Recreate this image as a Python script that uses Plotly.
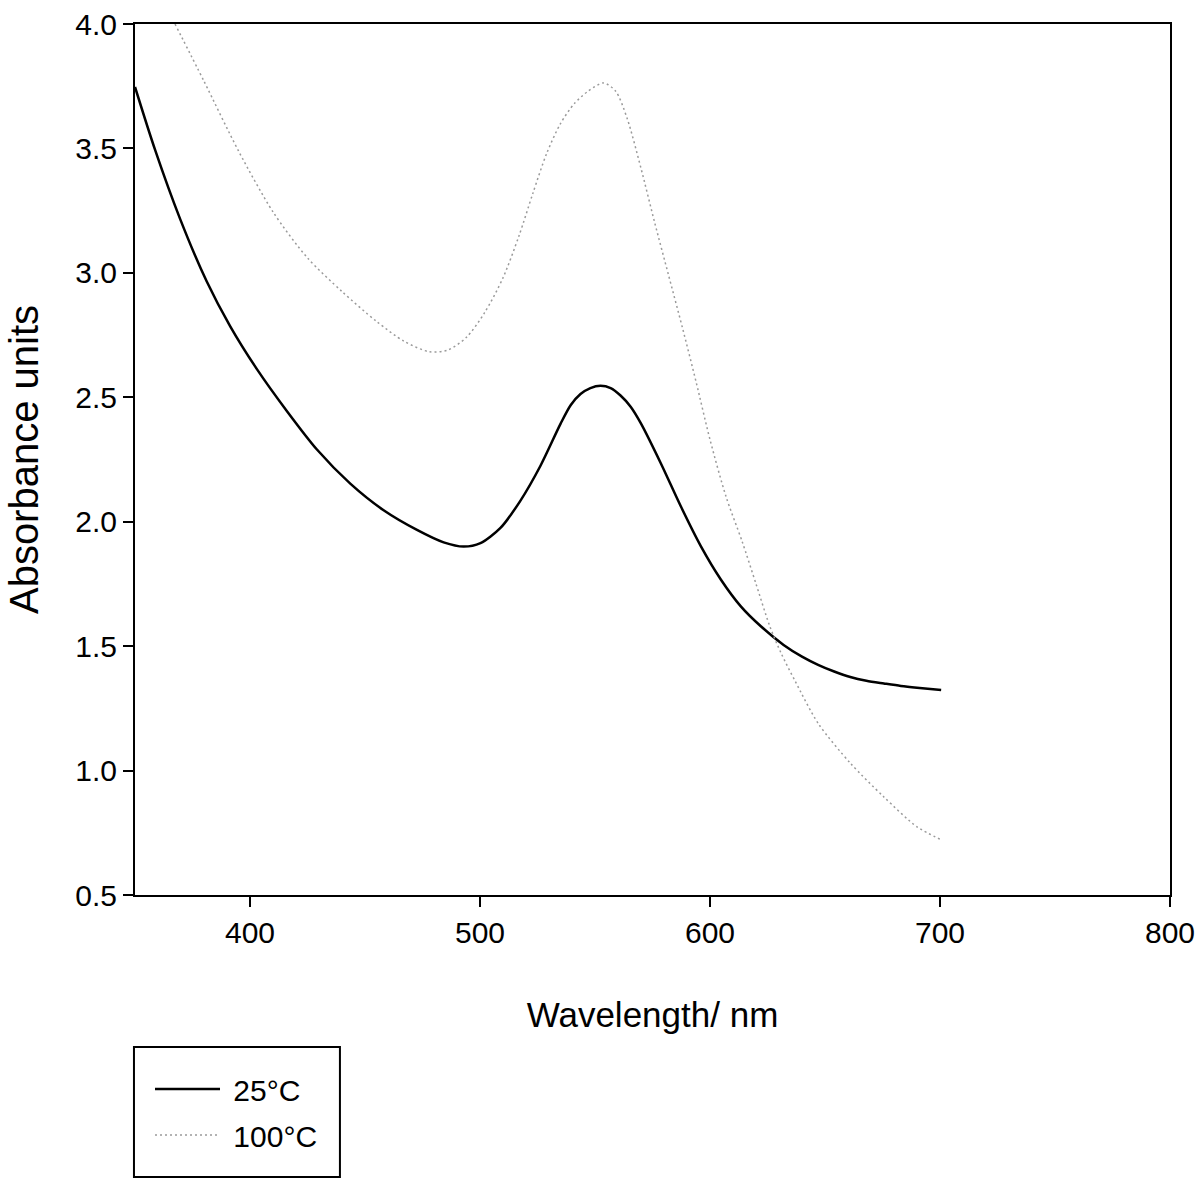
import plotly.graph_objects as go

# 25°C spectrum (wavelength nm, absorbance)
wl_25 = [350, 358.7, 369.6, 381.2, 391.4, 403, 416, 429.1, 443.6, 458.1, 472.6, 484.2,
         492.9, 500.2, 508.9, 517.6, 526.3, 535, 539.4, 543.7, 548, 552.4, 556.8, 561.1,
         565.5, 569.9, 578.6, 587.3, 596, 604.7, 613.4, 622.1, 632, 640, 647, 654, 661,
         668, 675.6, 683, 690, 700.5]
abs_25 = [3.747, 3.495, 3.217, 2.965, 2.785, 2.613, 2.445, 2.29, 2.153, 2.046, 1.967, 1.917,
          1.900, 1.914, 1.975, 2.085, 2.225, 2.393, 2.468, 2.513, 2.537, 2.546, 2.537, 2.507,
          2.462, 2.396, 2.235, 2.062, 1.902, 1.768, 1.660, 1.580, 1.505, 1.458, 1.425, 1.398,
          1.376, 1.361, 1.350, 1.340, 1.333, 1.324]

# 100°C spectrum
wl_100 = [367.4, 380, 395, 410, 425, 440, 455, 467, 478, 486, 494, 502, 510, 517, 523,
          529, 535, 541, 547, 553.7, 559, 564, 570, 576, 582, 588, 594, 600, 607, 614, 620,
          626, 631, 637, 647, 661, 675.6, 690, 700.5]
abs_100 = [4.0, 3.77, 3.49, 3.245, 3.06, 2.925, 2.805, 2.725, 2.683, 2.69, 2.74, 2.84, 2.98,
           3.15, 3.32, 3.48, 3.60, 3.68, 3.73, 3.763, 3.73, 3.62, 3.42, 3.20, 2.99, 2.78,
           2.56, 2.33, 2.10, 1.92, 1.75, 1.58, 1.47, 1.36, 1.19, 1.03, 0.894, 0.774, 0.722]

series_names = ["25°C", "100°C"]
x_ticks = [400, 500, 600, 700, 800]
y_ticks = [0.5, 1.0, 1.5, 2.0, 2.5, 3.0, 3.5, 4.0]

FONT = "Liberation Sans, Arial, sans-serif"

fig = go.Figure()
fig.add_trace(go.Scatter(
    x=wl_25, y=abs_25, mode="lines", name="\u00a0" + series_names[0],
    line=dict(color="black", width=2.5, shape="spline", smoothing=0.8),
    legend="legend", showlegend=True,
))
fig.add_trace(go.Scatter(
    x=wl_100, y=abs_100, mode="lines", name="\u00a0" + series_names[1],
    line=dict(color="#9a9a9a", width=1.5, dash="2px,3px", shape="spline", smoothing=0.8),
    legend="legend2", showlegend=True,
))

axis_common = dict(
    showline=True, linecolor="black", linewidth=2, mirror=True,
    ticks="outside", ticklen=10, tickwidth=2, tickcolor="black",
    showgrid=False, zeroline=False, ticklabeloverflow="allow",
    tickfont=dict(family=FONT, size=30, color="black"),
)

legend_common = dict(xanchor="left", yanchor="top", bgcolor="rgba(0,0,0,0)",
                     borderwidth=0, itemwidth=65, visible=True,
                     font=dict(family=FONT, size=30, color="black"))

fig.update_layout(
    width=1200, height=1188,
    margin=dict(l=135, r=30, t=24, b=293, autoexpand=False),
    paper_bgcolor="white", plot_bgcolor="white",
    showlegend=True,
    font=dict(family=FONT, color="black"),
    xaxis=dict(range=[350, 800], tickvals=x_ticks, **axis_common,
               title=dict(text="Wavelength/ nm", font=dict(family=FONT, size=35), standoff=54)),
    yaxis=dict(range=[0.5, 4.0], tickvals=y_ticks, tickformat=".1f", **axis_common,
               title=dict(text="Absorbance units", font=dict(family=FONT, size=40), standoff=24)),
    legend=dict(x=0.0145, y=-0.1929, **legend_common),
    legend2=dict(x=0.0145, y=-0.2457, **legend_common),
    shapes=[dict(type="rect", xref="paper", yref="paper",
                 x0=-0.001, x1=0.198, y0=-0.3238, y1=-0.1745,
                 line=dict(color="black", width=2))],
)

fig.write_html("out.html", config={"displayModeBar": False},
               post_script="document.body.style.margin='0';")
